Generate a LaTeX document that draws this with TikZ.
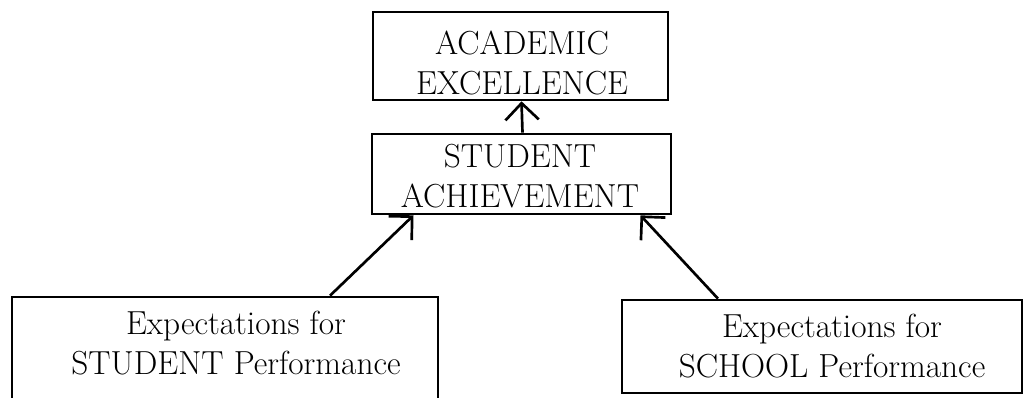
\documentclass[tikz,border=0pt]{standalone}
\usetikzlibrary{arrows.meta,fit,calc}
\begin{document}
\begin{tikzpicture}[x=0.75pt,y=-0.75pt,
  box/.style={draw,line width=2pt,inner sep=0pt},
  lbl/.style={anchor=base,inner sep=0pt,font=\fontsize{25}{29.3}\selectfont},
  link/.style={line width=2pt,-{Straight Barb[length=12.5pt,width=25pt]}}]
\clip (0,0) rectangle (1023,398);
\node[box,fit={(373,12)(668,100)}] (top) {};
\node[box,fit={(372,134)(671,214)}] (mid) {};
\node[box,fit={(12,297)(438,402)}] (lb) {};
\node[box,fit={(622,300)(1022,393)}] (rb) {};
\node[lbl] (toptxt) at (522,55) {\begin{tabular}[t]{@{}c@{}}ACADEMIC\\EXCELLENCE\end{tabular}};
\node[lbl] (midtxt) at (520,168) {\begin{tabular}[t]{@{}c@{}}STUDENT\\ACHIEVEMENT\end{tabular}};
\node[lbl] (lbtxt) at (236,335) {\begin{tabular}[t]{@{}c@{}}Expectations for\\STUDENT Performance\end{tabular}};
\node[lbl] (rbtxt) at (832,338) {\begin{tabular}[t]{@{}c@{}}Expectations for\\SCHOOL Performance\end{tabular}};
\draw[link] ($(mid.north)+(1,0)$) -- ($(top.south)+(1,0)$);
\draw[link] ($(lb.north)+(105,0)$) -- ($(mid.south)+(-108,0)$);
\draw[link] ($(rb.north)+(-104,0)$) -- ($(mid.south)+(119,0)$);
\end{tikzpicture}
\end{document}
